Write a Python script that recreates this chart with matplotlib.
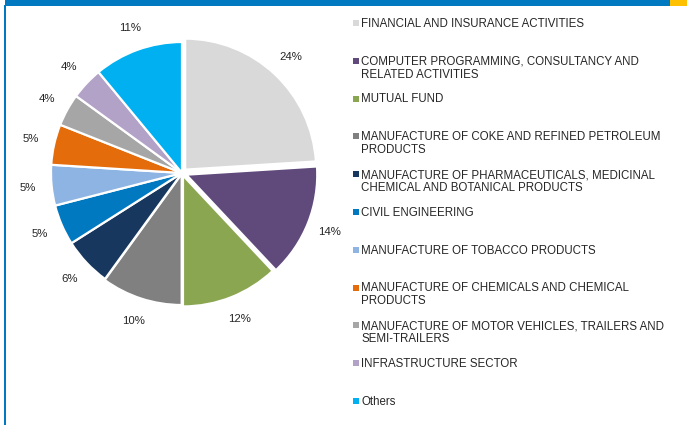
import matplotlib
matplotlib.use("Agg")
import matplotlib.pyplot as plt
from matplotlib.patches import Rectangle

plt.rcParams["font.family"] = ["Liberation Sans", "DejaVu Sans"]

# sector allocation (%)
sectors = [
    "FINANCIAL AND INSURANCE ACTIVITIES",
    "COMPUTER PROGRAMMING, CONSULTANCY AND\nRELATED ACTIVITIES",
    "MUTUAL FUND",
    "MANUFACTURE OF COKE AND REFINED PETROLEUM\nPRODUCTS",
    "MANUFACTURE OF PHARMACEUTICALS, MEDICINAL\nCHEMICAL AND BOTANICAL PRODUCTS",
    "CIVIL ENGINEERING",
    "MANUFACTURE OF TOBACCO PRODUCTS",
    "MANUFACTURE OF CHEMICALS AND CHEMICAL\nPRODUCTS",
    "MANUFACTURE OF MOTOR VEHICLES, TRAILERS AND\nSEMI-TRAILERS",
    "INFRASTRUCTURE SECTOR",
    "Others",
]
weights = [24, 14, 12, 10, 6, 5, 5, 5, 4, 4, 11]
colors = ["#D9D9D9", "#604A7B", "#8BA650", "#808080", "#17375E", "#0079C1",
          "#8DB4E2", "#E46C0A", "#A6A6A6", "#B3A2C7", "#00B0F0"]
explode = [0.035, 0.035, 0.02, 0.008, 0, 0, 0, 0, 0, 0, 0]

W, H = 687, 425
fig = plt.figure(figsize=(W / 100, H / 100), dpi=100)

# pie: centre (182,173) px, radius 131 px
cx, cy, r = 182, 173, 131
ax = fig.add_axes([(cx - r) / W, (H - cy - r) / H, 2 * r / W, 2 * r / H])
ax.pie(weights, colors=colors, startangle=90, counterclock=False,
       explode=explode, autopct="%1.0f%%", pctdistance=1.18,
       wedgeprops=dict(edgecolor="white", linewidth=1.6),
       textprops=dict(fontsize=8.2, color="#262626"))
ax.set_xlim(-1, 1)
ax.set_ylim(-1, 1)
ax.set_aspect("equal")

# overlay in pixel coordinates for frame and legend
ov = fig.add_axes([0, 0, 1, 1], zorder=-1)
ov.set_xlim(0, W)
ov.set_ylim(H, 0)
ov.axis("off")
ov.add_patch(Rectangle((5, 0), 665, 5.5, color="#0079C1", lw=0))
ov.add_patch(Rectangle((670, 0), 17, 5.5, color="#FFC000", lw=0))
ov.add_patch(Rectangle((4, 5), 2, H - 5, color="#0079C1", lw=0))

# legend
y0, step = 23, 37.8
for i, (name, c) in enumerate(zip(sectors, colors)):
    y = y0 + i * step
    ov.add_patch(Rectangle((353, y - 3), 6, 6, color=c, lw=0))
    for j, line in enumerate(name.split("\n")):
        ov.text(361, y + 3.8 + j * 13, line, fontsize=8.3, color="#262626",
                va="baseline", ha="left")

fig.savefig("out.png", dpi=100)
